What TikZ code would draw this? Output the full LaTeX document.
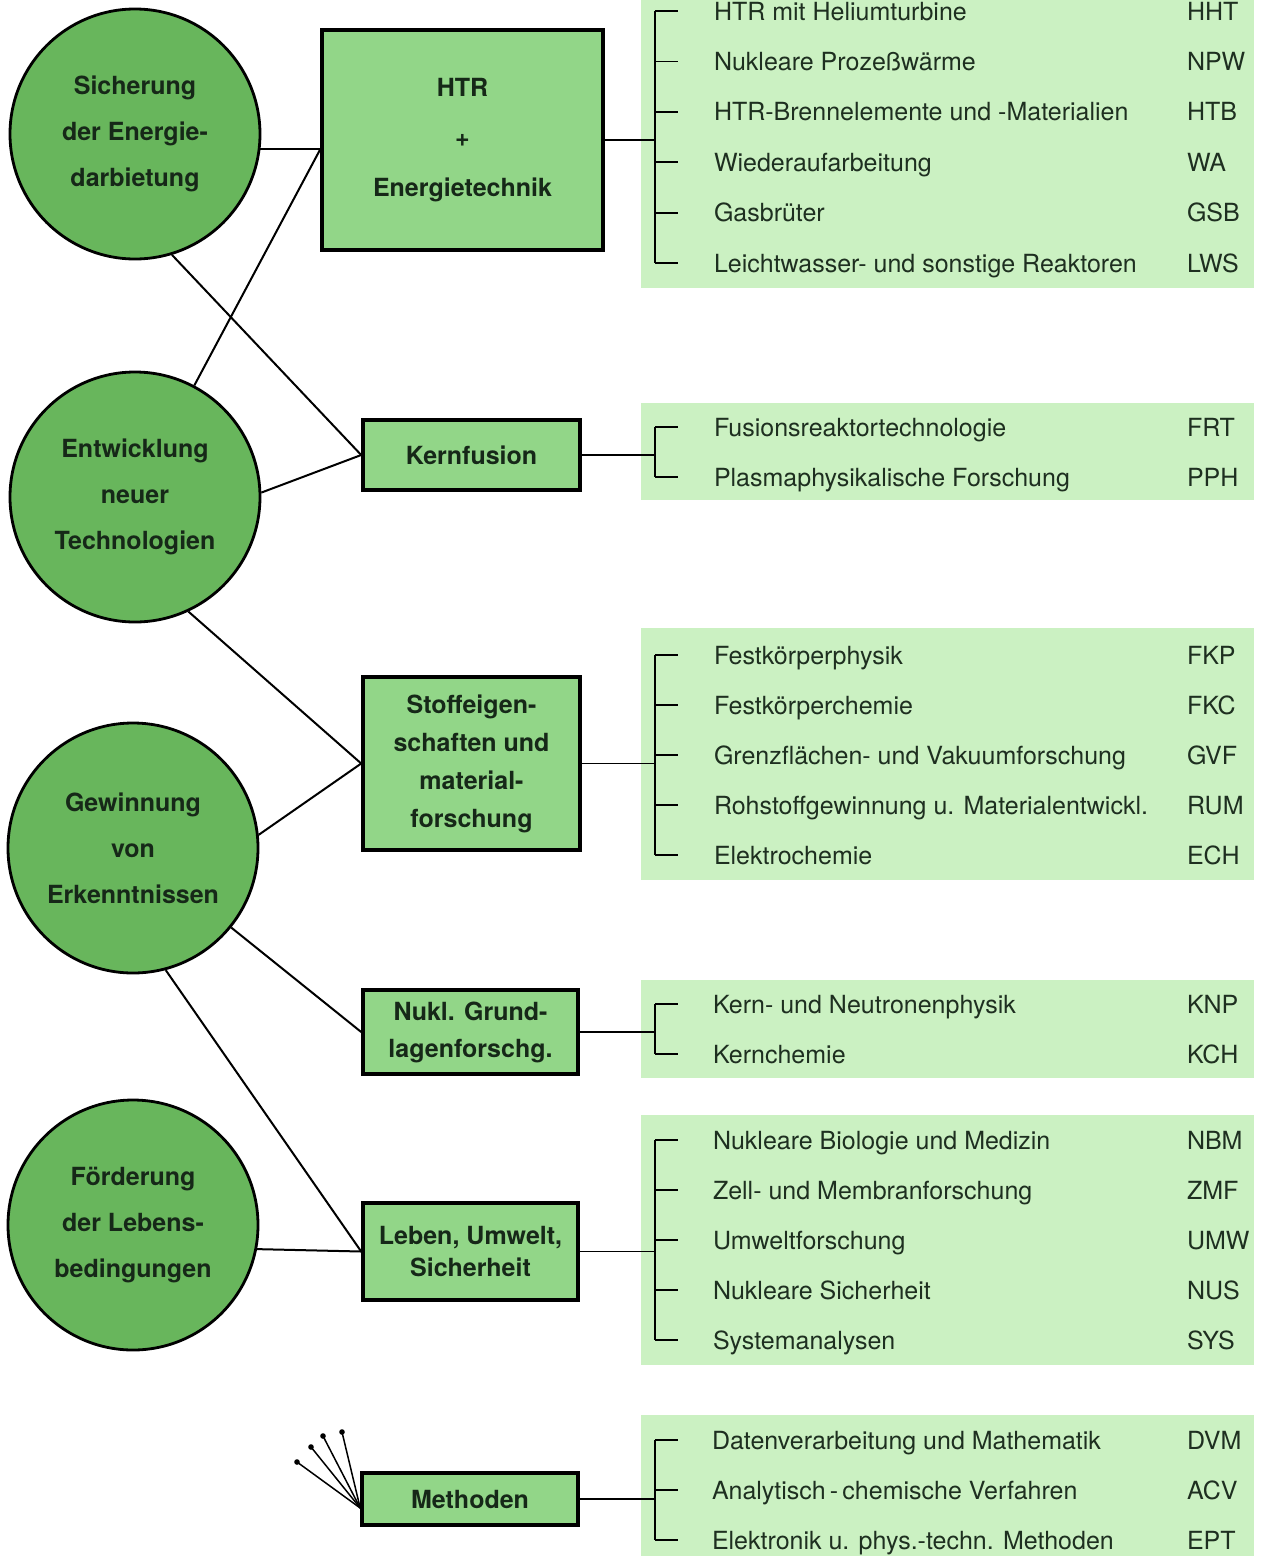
\documentclass[tikz,border=0pt]{standalone}
\usepackage{fontspec}
\setmainfont{TeX Gyre Heros}
\definecolor{kreis}{RGB}{104,182,92}
\definecolor{kasten}{RGB}{146,214,136}
\definecolor{tafel}{RGB}{203,241,194}
\definecolor{schrift}{RGB}{22,40,24}
\begin{document}
\begin{tikzpicture}[x=1pt, y=-1pt, line width=2pt,
  ziel/.style={circle, draw, line width=2.8pt, fill=kreis, minimum size=250pt, inner sep=0pt,
    align=center, text=schrift, font=\bfseries\fontsize{25}{46}\selectfont},
  feld/.style={rectangle, draw, line width=3.6pt, fill=kasten, minimum width=217pt, inner sep=0pt,
    align=center, text=schrift, font=\bfseries\fontsize{25}{38}\selectfont},
  eintrag/.style={anchor=base west, inner sep=0pt, text=schrift!92!gray, font=\fontsize{25}{28}\selectfont},
  klammer/.style={line width=1.8pt}]
  \useasboundingbox (0,0) rectangle (1264,1556);
  % Tafeln rechts
  \fill[tafel] (641,0) rectangle (1254,288);
  \fill[tafel] (641,403) rectangle (1254,500);
  \fill[tafel] (641,628) rectangle (1254,880);
  \fill[tafel] (641,980) rectangle (1254,1078);
  \fill[tafel] (641,1115) rectangle (1254,1365);
  \fill[tafel] (641,1415) rectangle (1254,1556);
  % Ziele
  \node[ziel] (energie) at (135,134) {Sicherung\\der Energie-\\darbietung};
  \node[ziel] (technik) at (135,497) {Entwicklung\\neuer\\Technologien};
  \node[ziel] (wissen) at (133,848) {Gewinnung\\von\\Erkenntnissen};
  \node[ziel] (leben-ziel) at (133,1225) {Förderung\\der Lebens-\\bedingungen};
  % Arbeitsfelder
  \node[feld, minimum width=281pt, minimum height=220pt, font=\bfseries\fontsize{25}{50}\selectfont]
    (htr) at (462.5,140) {HTR\\+\\Energietechnik};
  \node[feld, minimum height=70pt] (kern) at (471.5,455) {Kernfusion};
  \node[feld, minimum height=173pt] (stoff) at (471.5,763.5) {Stoffeigen-\\schaften und\\material-\\forschung};
  \node[feld, minimum width=215pt, minimum height=84pt, font=\bfseries\fontsize{25}{37}\selectfont]
    (nukl) at (470.5,1032) {Nukl. Grund-\\lagenforschg.};
  \node[feld, minimum width=215pt, minimum height=97pt, font=\bfseries\fontsize{25}{32}\selectfont]
    (leben) at (470.5,1251.5) {Leben, Umwelt,\\Sicherheit};
  \node[feld, minimum width=216pt, minimum height=52pt] (meth) at (470,1499) {Methoden};
  % Verbindungen Ziel -- Feld
  \coordinate (htr-in) at (energie.-7 -| htr.west);
  \draw (energie.-7) -- (htr-in);
  \draw (technik.62) -- (htr-in);
  \draw (energie.-73) -- (kern.west);
  \draw (technik.2) -- (kern.west);
  \draw (technik.-65) -- (stoff.west);
  \draw (wissen.6) -- (stoff.west);
  \draw (wissen.-39) -- (nukl.west);
  \draw (wissen.-75) -- (leben.west);
  \draw (leben-ziel.-11) -- (leben.west);
  % Methoden: Strahlen nach links oben
  \coordinate (meth-hub) at ([yshift=-9pt]meth.west);
  \foreach \mx/\my [count=\j] in {297/1462, 311/1447, 323/1436, 342/1432}{
    \coordinate (meth-\j) at (\mx,\my);
    \draw[line width=1.5pt] (meth-hub) -- (meth-\j);
    \fill (meth-\j) circle (2.8);
  }
  % Projekte HTR
  \foreach \txt/\kz [count=\i] in {HTR mit Heliumturbine/HHT, Nukleare Prozeßwärme/NPW,
      HTR-Brennelemente und -Materialien/HTB, Wiederaufarbeitung/WA, Gasbrüter/GSB,
      Leichtwasser- und sonstige Reaktoren/LWS}{
    \coordinate (htr-k\i) at (655,{11+50.4*(\i-1)});
    \node[eintrag] (htr-\i) at (713,{20+50.4*(\i-1)}) {\txt};
    \node[eintrag] (htr-kz\i) at (1186,{20+50.4*(\i-1)}) {\kz};
    \draw[klammer] (htr-k\i) -- ++(23,0);
  }
  \draw[klammer] (htr-k1) -- (htr-k6);
  \draw[klammer] (htr.east) -- (htr.east -| htr-k1);
  % Projekte Kernfusion
  \foreach \txt/\kz [count=\i] in {Fusionsreaktortechnologie/FRT, Plasmaphysikalische Forschung/PPH}{
    \coordinate (kern-k\i) at (655,{427+50*(\i-1)});
    \node[eintrag] (kern-\i) at (713,{436+50*(\i-1)}) {\txt};
    \node[eintrag] (kern-kz\i) at (1186,{436+50*(\i-1)}) {\kz};
    \draw[klammer] (kern-k\i) -- ++(23,0);
  }
  \draw[klammer] (kern-k1) -- (kern-k2);
  \draw[klammer] (kern.east) -- (kern.east -| kern-k1);
  % Projekte Stoffeigenschaften
  \foreach \txt/\kz [count=\i] in {Festkörperphysik/FKP, Festkörperchemie/FKC,
      Grenzflächen- und Vakuumforschung/GVF, Rohstoffgewinnung u. Materialentwickl./RUM,
      Elektrochemie/ECH}{
    \coordinate (stoff-k\i) at (655,{655+50*(\i-1)});
    \node[eintrag] (stoff-\i) at (713,{664+50*(\i-1)}) {\txt};
    \node[eintrag] (stoff-kz\i) at (1186,{664+50*(\i-1)}) {\kz};
    \draw[klammer] (stoff-k\i) -- ++(23,0);
  }
  \draw[klammer] (stoff-k1) -- (stoff-k5);
  \draw[klammer] (stoff.east) -- (stoff.east -| stoff-k1);
  % Projekte Grundlagenforschung
  \foreach \txt/\kz [count=\i] in {Kern- und Neutronenphysik/KNP, Kernchemie/KCH}{
    \coordinate (nukl-k\i) at (655,{1004+50*(\i-1)});
    \node[eintrag] (nukl-\i) at (712,{1013+50*(\i-1)}) {\txt};
    \node[eintrag] (nukl-kz\i) at (1186,{1013+50*(\i-1)}) {\kz};
    \draw[klammer] (nukl-k\i) -- ++(23,0);
  }
  \draw[klammer] (nukl-k1) -- (nukl-k2);
  \draw[klammer] (nukl.east) -- (nukl.east -| nukl-k1);
  % Projekte Leben, Umwelt, Sicherheit
  \foreach \txt/\kz [count=\i] in {Nukleare Biologie und Medizin/NBM, Zell- und Membranforschung/ZMF,
      Umweltforschung/UMW, Nukleare Sicherheit/NUS, Systemanalysen/SYS}{
    \coordinate (leben-k\i) at (655,{1140+50*(\i-1)});
    \node[eintrag] (leben-\i) at (712,{1149+50*(\i-1)}) {\txt};
    \node[eintrag] (leben-kz\i) at (1186,{1149+50*(\i-1)}) {\kz};
    \draw[klammer] (leben-k\i) -- ++(23,0);
  }
  \draw[klammer] (leben-k1) -- (leben-k5);
  \draw[klammer] (leben.east) -- (leben.east -| leben-k1);
  % Projekte Methoden
  \foreach \txt/\kz [count=\i] in {Datenverarbeitung und Mathematik/DVM,
      Analytisch\,-\,chemische Verfahren/ACV, Elektronik u. phys.-techn. Methoden/EPT}{
    \coordinate (meth-k\i) at (655,{1440+50*(\i-1)});
    \node[eintrag] (meth-\i) at (711,{1449+50*(\i-1)}) {\txt};
    \node[eintrag] (meth-kz\i) at (1186,{1449+50*(\i-1)}) {\kz};
    \draw[klammer] (meth-k\i) -- ++(23,0);
  }
  \draw[klammer] (meth-k1) -- (meth-k3);
  \draw[klammer] (meth.east) -- (meth.east -| meth-k1);
\end{tikzpicture}
\end{document}
